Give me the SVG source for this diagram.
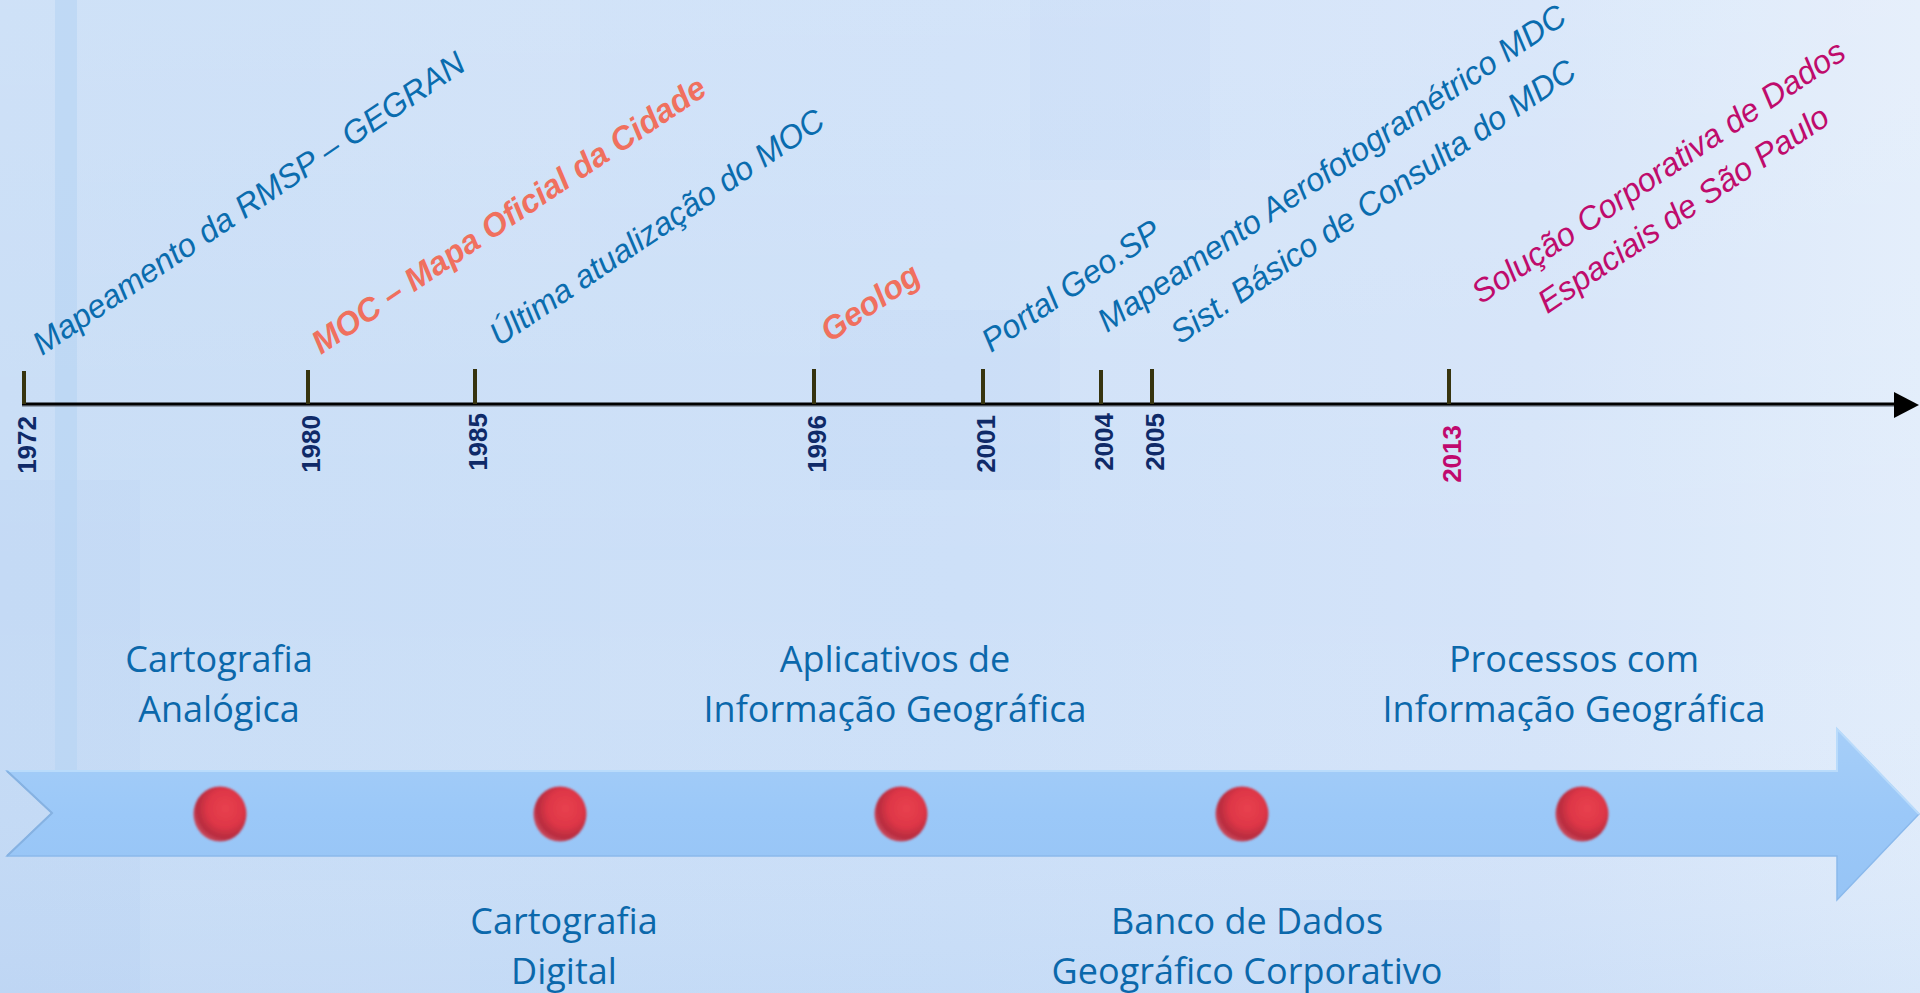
<svg xmlns="http://www.w3.org/2000/svg" width="1920" height="993" viewBox="0 0 1920 993">
  <defs>
    <linearGradient id="bg" x1="0" y1="0" x2="1" y2="0">
      <stop offset="0" stop-color="#c8ddf6"/>
      <stop offset="0.5" stop-color="#cde0f8"/>
      <stop offset="0.8" stop-color="#d5e4f9"/>
      <stop offset="1" stop-color="#e2edfb"/>
    </linearGradient>
    <linearGradient id="bgv" x1="0" y1="0" x2="0" y2="1">
      <stop offset="0" stop-color="#ffffff" stop-opacity="0.12"/>
      <stop offset="0.6" stop-color="#ffffff" stop-opacity="0"/>
      <stop offset="1" stop-color="#9cc2ee" stop-opacity="0.15"/>
    </linearGradient>
    <linearGradient id="ribbon" x1="0" y1="0" x2="0" y2="1">
      <stop offset="0" stop-color="#a6cef8"/>
      <stop offset="0.5" stop-color="#9bc8f8"/>
      <stop offset="1" stop-color="#96c4f5"/>
    </linearGradient>
    <radialGradient id="dot" cx="0.6" cy="0.4" r="0.62">
      <stop offset="0" stop-color="#e8414f"/>
      <stop offset="0.55" stop-color="#de3646"/>
      <stop offset="0.85" stop-color="#b82c40"/>
      <stop offset="1" stop-color="#c9485a"/>
    </radialGradient>
    <filter id="soft" x="-20%" y="-20%" width="140%" height="140%">
      <feGaussianBlur stdDeviation="0.8"/>
    </filter>
  </defs>
  <style>
    .lbl { font-family: "Liberation Sans", Arial, sans-serif; font-style: italic; font-size: 32.5px; }
    .blue { fill: #0a6cae; }
    .coral { fill: #f0705e; font-weight: bold; font-style: italic; }
    .mag { fill: #bf0b6c; }
    .year { font-family: "Liberation Sans", Arial, sans-serif; font-weight: bold; font-size: 26px; fill: #0f2a68; }
    .year.mag { fill: #c0096e; }
    .tick { stroke: #37340f; stroke-width: 4; }
    .phase { font-family: "Open Sans", "Noto Sans", sans-serif; font-size: 36px; fill: #0b68ab; text-anchor: middle; }
  </style>

  <!-- background -->
  <rect x="0" y="0" width="1920" height="993" fill="url(#bg)"/>
  <rect x="0" y="0" width="1920" height="993" fill="url(#bgv)"/>
  <g fill="#ffffff" opacity="0.05">
    <rect x="320" y="0" width="260" height="300"/>
    <rect x="1020" y="160" width="280" height="240"/>
    <rect x="1500" y="420" width="300" height="200"/>
    <rect x="600" y="560" width="240" height="160"/>
    <rect x="150" y="880" width="320" height="113"/>
    <rect x="1600" y="0" width="320" height="120"/>
  </g>
  <g fill="#8fb8ea" opacity="0.05">
    <rect x="1030" y="0" width="180" height="180"/>
    <rect x="820" y="310" width="240" height="180"/>
    <rect x="1300" y="900" width="200" height="93"/>
    <rect x="0" y="480" width="140" height="513"/>
  </g>
  <rect x="55" y="0" width="22" height="770" fill="#b6d3f4" opacity="0.6"/>

  <!-- timeline axis -->
  <g id="connectors">
    <line x1="22" y1="406" x2="1896" y2="406" stroke="#7f8a99" stroke-width="1.5"/>
    <line x1="22" y1="404" x2="1896" y2="404" stroke="#000" stroke-width="3"/>
    <path d="M1894,392 L1919,405 L1894,418 Z" fill="#000"/>
  </g>

  <!-- timeline events -->
  <g id="y1972">
    <line class="tick" x1="24" y1="371" x2="24" y2="404"/>
    <text class="year" text-anchor="end" transform="translate(36,416) rotate(-90)">1972</text>
    <text class="lbl blue" transform="translate(42,356) rotate(-34)">Mapeamento da RMSP – GEGRAN</text>
  </g>
  <g id="y1980">
    <line class="tick" x1="308" y1="370" x2="308" y2="404"/>
    <text class="year" text-anchor="end" transform="translate(320,415) rotate(-90)">1980</text>
    <text class="lbl coral" transform="translate(321,355) rotate(-34)">MOC – Mapa Oficial da Cidade</text>
  </g>
  <g id="y1985">
    <line class="tick" x1="475" y1="369" x2="475" y2="404"/>
    <text class="year" text-anchor="end" transform="translate(487,413) rotate(-90)">1985</text>
    <text class="lbl blue" transform="translate(499,347) rotate(-34)">Última atualização do MOC</text>
  </g>
  <g id="y1996">
    <line class="tick" x1="814" y1="369" x2="814" y2="404"/>
    <text class="year" text-anchor="end" transform="translate(826,415) rotate(-90)">1996</text>
    <text class="lbl coral" transform="translate(830,343) rotate(-34)">Geolog</text>
  </g>
  <g id="y2001">
    <line class="tick" x1="983" y1="369" x2="983" y2="404"/>
    <text class="year" text-anchor="end" transform="translate(995,415) rotate(-90)">2001</text>
    <text class="lbl blue" transform="translate(991,353) rotate(-34)">Portal Geo.SP</text>
  </g>
  <g id="y2004">
    <line class="tick" x1="1101" y1="370" x2="1101" y2="404"/>
    <text class="year" text-anchor="end" transform="translate(1113,413) rotate(-90)">2004</text>
    <text class="lbl blue" transform="translate(1107,333) rotate(-34)">Mapeamento Aerofotogramétrico MDC</text>
  </g>
  <g id="y2005">
    <line class="tick" x1="1152" y1="369" x2="1152" y2="404"/>
    <text class="year" text-anchor="end" transform="translate(1164,413) rotate(-90)">2005</text>
    <text class="lbl blue" transform="translate(1180,345) rotate(-34)">Sist. Básico de Consulta do MDC</text>
  </g>
  <g id="y2013">
    <line class="tick" x1="1449" y1="369" x2="1449" y2="404"/>
    <text class="year mag" text-anchor="end" transform="translate(1461,425) rotate(-90)">2013</text>
    <g transform="translate(1482,304) rotate(-34)">
      <text class="lbl mag" x="220" y="0" text-anchor="middle">Solução Corporativa de Dados</text>
      <text class="lbl mag" x="220" y="45" text-anchor="middle">Espaciais de São Paulo</text>
    </g>
  </g>

  <!-- ribbon arrow -->
  <g id="ribbon">
    <path d="M7,771 L1837,771 L1837,729 L1919,814 L1837,900 L1837,856 L7,856 L52,813 Z" fill="url(#ribbon)" stroke="#8ab9ec" stroke-width="1.5"/>
    <path d="M7,771 L1837,771 L1837,729 L1919,814" fill="none" stroke="#b9dbfb" stroke-width="2"/>
    <path d="M7,771 L52,813 L7,856" fill="none" stroke="#86b2e2" stroke-width="2"/>
  </g>

  <!-- phases -->
  <g id="phase1">
    <ellipse cx="220" cy="814" rx="26.5" ry="27.5" fill="url(#dot)" filter="url(#soft)"/>
    <text class="phase" x="219" y="672">Cartografia</text>
    <text class="phase" x="219" y="722">Analógica</text>
  </g>
  <g id="phase2">
    <ellipse cx="560" cy="814" rx="26.5" ry="27.5" fill="url(#dot)" filter="url(#soft)"/>
    <text class="phase" x="564" y="934">Cartografia</text>
    <text class="phase" x="564" y="984">Digital</text>
  </g>
  <g id="phase3">
    <ellipse cx="901" cy="814" rx="26.5" ry="27.5" fill="url(#dot)" filter="url(#soft)"/>
    <text class="phase" x="895" y="672">Aplicativos de</text>
    <text class="phase" x="895" y="722">Informação Geográfica</text>
  </g>
  <g id="phase4">
    <ellipse cx="1242" cy="814" rx="26.5" ry="27.5" fill="url(#dot)" filter="url(#soft)"/>
    <text class="phase" x="1247" y="934">Banco de Dados</text>
    <text class="phase" x="1247" y="984">Geográfico Corporativo</text>
  </g>
  <g id="phase5">
    <ellipse cx="1582" cy="814" rx="26.5" ry="27.5" fill="url(#dot)" filter="url(#soft)"/>
    <text class="phase" x="1574" y="672">Processos com</text>
    <text class="phase" x="1574" y="722">Informação Geográfica</text>
  </g>
</svg>
